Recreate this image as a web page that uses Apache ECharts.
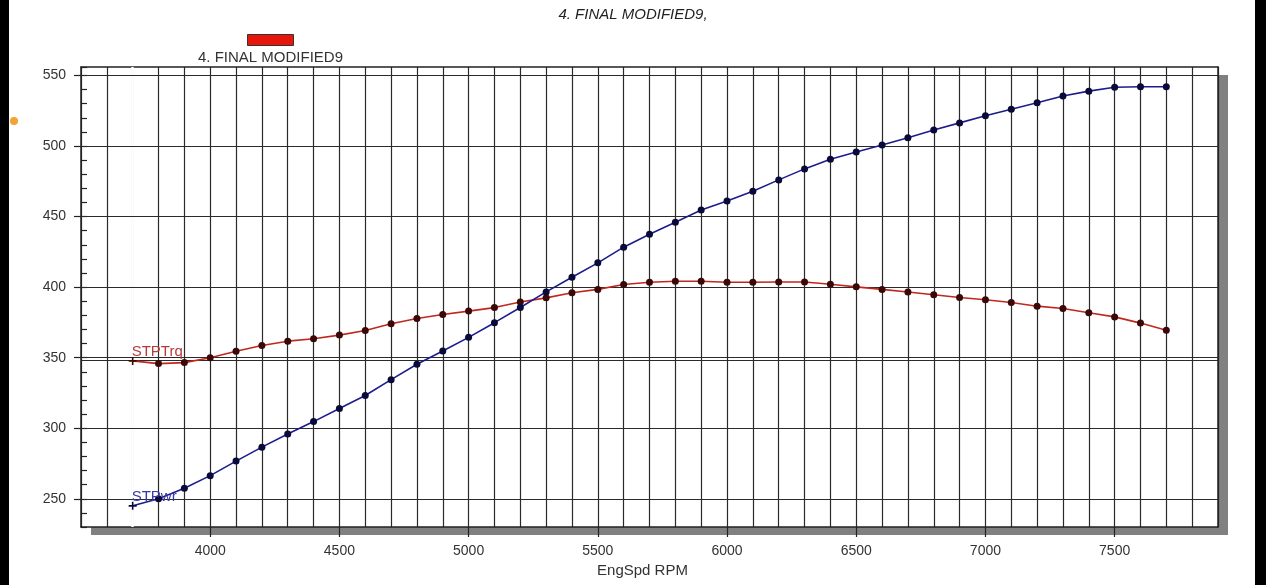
<!DOCTYPE html>
<html>
<head>
<meta charset="utf-8">
<script src="https://cdn.jsdelivr.net/npm/echarts@6/dist/echarts.min.js"></script>
<style>
  html, body { margin: 0; padding: 0; background: #fff; }
  #chart { position: absolute; left: 0; top: 0; width: 1266px; height: 585px; }
  .bar { position: absolute; top: 0; height: 585px; background: #000; z-index: 5; }
</style>
</head>
<body>
<div id="chart"></div>
<div class="bar" style="left:0;width:9px;"></div>
<div class="bar" style="left:1255px;width:11px;"></div>
<script>
// ---- data ----
const rpm = [3700, 3800, 3900, 4000, 4100, 4200, 4300, 4400, 4500, 4600,
             4700, 4800, 4900, 5000, 5100, 5200, 5300, 5400, 5500, 5600,
             5700, 5800, 5900, 6000, 6100, 6200, 6300, 6400, 6500, 6600,
             6700, 6800, 6900, 7000, 7100, 7200, 7300, 7400, 7500, 7600, 7700];
const stpTrq = [347.7, 345.8, 346.5, 350.0, 354.6, 358.6, 361.7, 363.4, 366.0, 369.2,
                374.0, 377.8, 380.6, 383.0, 385.5, 389.5, 392.4, 396.0, 398.4, 401.9,
                403.5, 404.2, 404.2, 403.5, 403.5, 403.6, 403.6, 402.0, 400.2, 398.4,
                396.5, 394.6, 392.7, 391.0, 389.1, 386.5, 384.9, 381.8, 378.9, 374.5, 369.4];
const stpPwr = [245.0, 250.0, 257.5, 266.4, 276.7, 286.6, 295.9, 304.7, 314.0, 323.2,
                334.4, 345.3, 354.7, 364.4, 374.8, 385.6, 396.6, 407.0, 417.2, 428.3,
                437.5, 446.0, 454.6, 461.0, 468.0, 476.0, 483.8, 490.6, 495.7, 500.7,
                505.8, 511.3, 516.4, 521.4, 526.1, 530.6, 535.4, 538.9, 541.6, 542.0, 542.0];
const xTickLabels = [4000, 4500, 5000, 5500, 6000, 6500, 7000, 7500];
const yTickLabels = [250, 300, 350, 400, 450, 500, 550];
const refLine = [348];
const hiddenGridX = [3700];
const chartTitle = '4. FINAL MODIFIED9,';
const runName = '4. FINAL MODIFIED9';
const trqName = 'STPTrq';
const pwrName = 'STPwr';

// ---- chart ----
const FONT = 'Liberation Sans, Arial, sans-serif';
const LINE = '#222';
const GRIDC = '#2a2a2a';
const plusPath = 'path://M0,4h10v2h-10z M4,0h2v10h-2z';
const XMIN = 3500, XMAX = 7900, YMIN = 230, YMAX = 556;

function buildData(vals, labelColor, name) {
  return vals.map((v, i) => {
    const d = { value: [rpm[i], v] };
    if (i === 0) {
      d.symbol = plusPath;
      d.symbolSize = 8;
      d.label = {
        show: true, formatter: name, position: [3, -5],
        align: 'left', verticalAlign: 'middle',
        color: labelColor, fontSize: 15, fontFamily: FONT
      };
    }
    return d;
  });
}

const bare = { axisLine: { show: false }, axisTick: { show: false },
               axisLabel: { show: false }, splitLine: { show: false } };

const chart = echarts.init(document.getElementById('chart'), null, { renderer: 'canvas' });
chart.setOption({
  animation: false,
  backgroundColor: 'transparent',
  title: [
    { text: chartTitle, left: 'center', top: 2,
      textStyle: { fontSize: 15, fontStyle: 'italic', fontWeight: 'normal', color: '#222', fontFamily: FONT } },
    { text: runName, left: 193, top: 45,
      textStyle: { fontSize: 15, fontWeight: 'normal', color: '#333', fontFamily: FONT } }
  ],
  legend: {
    data: [runName], left: 247, top: 34, itemWidth: 46, itemHeight: 11,
    icon: 'rect', formatter: () => '', padding: 0, selectedMode: false,
    itemStyle: { borderColor: '#333', borderWidth: 1 }
  },
  graphic: [
    { type: 'circle', shape: { cx: 14, cy: 121, r: 4 }, style: { fill: '#f4a236' }, z: 100 }
  ],
  grid: {
    left: 81, right: 48, top: 67, bottom: 58, show: true,
    outerBoundsMode: 'none', containLabel: false,
    backgroundColor: '#fff', borderWidth: 0, borderColor: 'transparent',
    shadowColor: '#808080', shadowOffsetX: 10, shadowOffsetY: 8, shadowBlur: 0
  },
  xAxis: [
    { type: 'value', min: XMIN, max: XMAX, interval: 100, position: 'bottom',
      name: 'EngSpd RPM', nameLocation: 'middle', nameGap: 36,
      nameTextStyle: { fontSize: 15, color: '#333', fontFamily: FONT, padding: [0, 14, 0, 0] },
      axisLine: { show: true, lineStyle: { color: LINE, width: 1.5 } },
      axisTick: { show: false },
      axisLabel: { margin: 17, fontSize: 14, color: '#333', fontFamily: FONT,
                   formatter: v => (xTickLabels.indexOf(v) >= 0 ? String(v) : '') },
      splitLine: { show: true, lineStyle: { color: GRIDC, width: 1.2 } } },
    Object.assign({ type: 'value', min: XMIN, max: XMAX, position: 'bottom' }, bare, {
      axisTick: { show: true, inside: false, length: 10, customValues: xTickLabels,
                  lineStyle: { color: LINE, width: 1.2 } } }),
    Object.assign({ type: 'value', min: XMIN, max: XMAX, position: 'top' }, bare, {
      axisLine: { show: true, onZero: false, lineStyle: { color: LINE, width: 1.5 } } })
  ],
  yAxis: [
    { type: 'value', min: YMIN, max: YMAX, interval: 10, position: 'left',
      axisLine: { show: true, onZero: false, lineStyle: { color: LINE, width: 1.5 } },
      axisTick: { show: true, inside: true, length: 6, lineStyle: { color: LINE, width: 1.2 } },
      axisLabel: { margin: 15, fontSize: 14, color: '#333', fontFamily: FONT,
                   formatter: v => (yTickLabels.indexOf(v) >= 0 ? String(v) : '') },
      splitLine: { show: false } },
    Object.assign({ type: 'value', min: YMIN, max: YMAX, position: 'left' }, bare, {
      axisTick: { show: true, inside: false, length: 7, customValues: yTickLabels,
                  lineStyle: { color: LINE, width: 1.2 } } }),
    Object.assign({ type: 'value', min: YMIN, max: YMAX, position: 'right' }, bare, {
      axisLine: { show: true, onZero: false, lineStyle: { color: LINE, width: 1.5 } } })
  ],
  series: [
    { name: runName, type: 'line', data: [], z: 1, itemStyle: { color: '#e8150b' },
      markLine: {
        z: 1, silent: true, symbol: 'none', label: { show: false },
        lineStyle: { color: '#fff', width: 2.5, type: 'solid' },
        data: hiddenGridX.map(v => ({ xAxis: v }))
      } },
    { name: trqName, type: 'line', xAxisIndex: 0, yAxisIndex: 0,
      data: buildData(stpTrq, '#b83a3a', trqName),
      symbol: 'circle', symbolSize: 7,
      lineStyle: { color: '#c0281e', width: 1.6 },
      itemStyle: { color: '#3a0808' },
      markLine: {
        z: 1.5, silent: true, symbol: 'none', label: { show: false },
        lineStyle: { color: GRIDC, width: 1.2, type: 'solid' },
        data: yTickLabels.map(v => ({ yAxis: v })).concat(refLine.map(v => ({ yAxis: v })))
      },
      z: 3 },
    { name: pwrName, type: 'line', xAxisIndex: 0, yAxisIndex: 0,
      data: buildData(stpPwr, '#3a3aa8', pwrName),
      symbol: 'circle', symbolSize: 7,
      lineStyle: { color: '#1c1c8c', width: 1.6 },
      itemStyle: { color: '#0a0a3a' },
      z: 4 }
  ]
});
</script>
</body>
</html>
